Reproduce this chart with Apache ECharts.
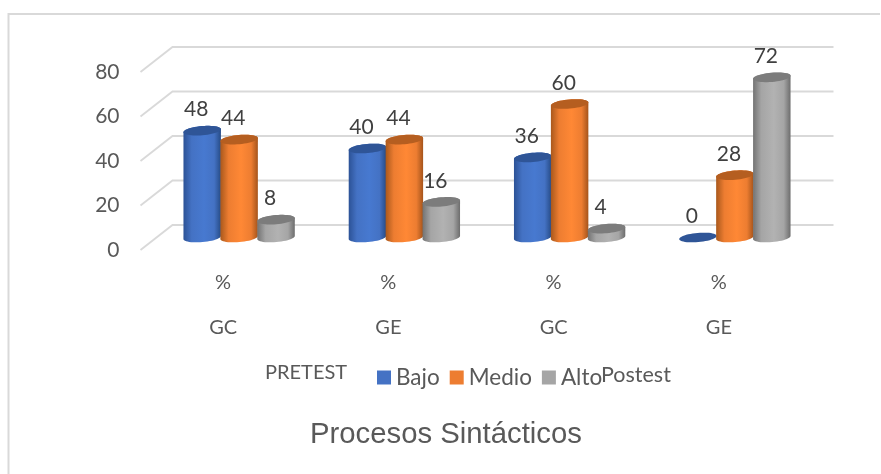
<!DOCTYPE html>
<html>
<head>
<meta charset="utf-8">
<style>html,body{margin:0;padding:0;background:#fff}#chart{width:881px;height:474px}</style>
<script src="https://cdn.jsdelivr.net/npm/echarts@6/dist/echarts.min.js"></script>
</head>
<body>
<div id="chart"></div>
<script>
// Procesos Sintácticos: pretest and posttest levels per group
const units = ['%', '%', '%', '%'];
const groups = ['GC', 'GE', 'GC', 'GE'];
const bajo = [48, 40, 36, 0];
const medio = [44, 44, 60, 28];
const alto = [8, 16, 4, 72];
const yTicks = [0, 20, 40, 60, 80];

const FONT = 'Lato, "Open Sans", sans-serif';
const DEPTH_X = 32, DEPTH_Y = 25;
const RADIUS_X = 18.8, RADIUS_Y = 4.6, TILT = 5 * Math.PI / 180;

const looks = {
  Bajo:  { color: '#4472C4', top: '#2F5597', edgeL: '#2C5296', mid: '#4779D0', edgeR: '#264B86' },
  Medio: { color: '#ED7D31', top: '#B55E20', edgeL: '#A9581C', mid: '#FF8835', edgeR: '#A5541B' },
  Alto:  { color: '#A5A5A5', top: '#7C7C7C', edgeL: '#737373', mid: '#B2B2B2', edgeR: '#6D6D6D' }
};

// Point on a tilted ellipse centred on (cx, cy)
function rim(cx, cy, t) {
  const ex = RADIUS_X * Math.cos(t), ey = RADIUS_Y * Math.sin(t);
  return [cx + ex * Math.cos(TILT) + ey * Math.sin(TILT),
          cy - ex * Math.sin(TILT) + ey * Math.cos(TILT)];
}

// One cylinder per data item, standing in the middle of the floor depth
function cylinder(name, slot) {
  const look = looks[name];
  return function (params, api) {
    const cat = api.value(0), val = api.value(1);
    const base = api.coord([cat, 0]), head = api.coord([cat, val]);
    const band = api.size([1, 0])[0];
    const cx = base[0] + DEPTH_X / 2 + slot * band * 0.2235;
    const by = base[1] - DEPTH_Y / 2, ty = head[1] - DEPTH_Y / 2;
    const children = [];
    if (val > 0) {
      const outline = [];
      for (let i = 0; i <= 24; i++) outline.push(rim(cx, ty, Math.PI + i / 24 * Math.PI));
      for (let i = 0; i <= 24; i++) outline.push(rim(cx, by, i / 24 * Math.PI));
      children.push({
        type: 'polygon',
        shape: { points: outline },
        style: {
          fill: {
            type: 'linear', x: 0, y: 0, x2: 1, y2: 0,
            colorStops: [
              { offset: 0, color: look.edgeL },
              { offset: 0.22, color: look.color },
              { offset: 0.55, color: look.mid },
              { offset: 0.82, color: look.color },
              { offset: 1, color: look.edgeR }
            ]
          }
        }
      });
    }
    const lid = [];
    for (let i = 0; i < 48; i++) lid.push(rim(cx, ty, i / 48 * 2 * Math.PI));
    children.push({ type: 'polygon', shape: { points: lid }, style: { fill: look.top } });
    children.push({
      type: 'text',
      z2: 50,
      style: {
        text: String(val),
        x: cx - 6, y: ty - 21,
        align: 'center', verticalAlign: 'middle',
        fill: '#404040', font: '21px ' + FONT
      }
    });
    return { type: 'group', children };
  };
}

// Floor-to-back wall guides: slanted side plus the back gridline
function wallLine(params, api) {
  const sys = params.coordSys;
  const y = api.coord([0, api.value(0)])[1];
  return {
    type: 'polyline',
    shape: { points: [[sys.x, y], [sys.x + DEPTH_X, y - DEPTH_Y], [sys.x + sys.width + DEPTH_X, y - DEPTH_Y]] },
    style: { fill: 'none', stroke: '#D9D9D9', lineWidth: 1.8 }
  };
}

function bars(name, values, slot) {
  return {
    name, type: 'custom',
    itemStyle: { color: looks[name].color },
    encode: { x: 0, y: 1 },
    clip: false,
    renderItem: cylinder(name, slot),
    data: values.map((v, i) => [i, v])
  };
}

const chart = echarts.init(document.getElementById('chart'), null, { renderer: 'canvas' });
chart.setOption({
  animation: false,
  backgroundColor: '#fff',
  grid: { left: 140.5, top: 72, width: 661, height: 178 },
  xAxis: {
    type: 'category',
    data: units.map((u, i) => u + '\n' + groups[i]),
    axisLine: { show: false }, axisTick: { show: false },
    axisLabel: { color: '#595959', fontFamily: FONT, fontSize: 20, lineHeight: 45, margin: 10 }
  },
  yAxis: {
    type: 'value', min: 0, max: 80, interval: 20,
    splitLine: { show: false }, axisLine: { show: false }, axisTick: { show: false },
    axisLabel: { color: '#595959', fontFamily: FONT, fontSize: 21, margin: 21 }
  },
  legend: {
    data: ['Bajo', 'Medio', 'Alto'],
    left: 372, top: 361,
    itemWidth: 14, itemHeight: 14, itemGap: 10,
    icon: 'rect',
    textStyle: { color: '#595959', fontFamily: FONT, fontSize: 22.5 }
  },
  graphic: [
    { type: 'polyline', silent: true, shape: { points: [[8.5, 474], [8.5, 14], [880, 14]] }, style: { fill: 'none', stroke: '#D9D9D9', lineWidth: 2 } },
    { type: 'text', left: 265, top: 363, style: { text: 'PRETEST', fill: '#595959', font: '20px ' + FONT } },
    { type: 'text', left: 601, top: 364, style: { text: 'Postest', fill: '#595959', font: '21.5px ' + FONT } },
    { type: 'text', left: 310, top: 420, style: { text: 'Procesos Sintácticos', fill: '#595959', font: '29.3px "Liberation Sans", Arial, sans-serif' } }
  ],
  series: [
    { type: 'custom', silent: true, renderItem: wallLine, encode: { y: 0 }, clip: false, data: yTicks.map(v => [v]), z: 1 },
    bars('Bajo', bajo, -1),
    bars('Medio', medio, 0),
    bars('Alto', alto, 1)
  ]
});
</script>
</body>
</html>
